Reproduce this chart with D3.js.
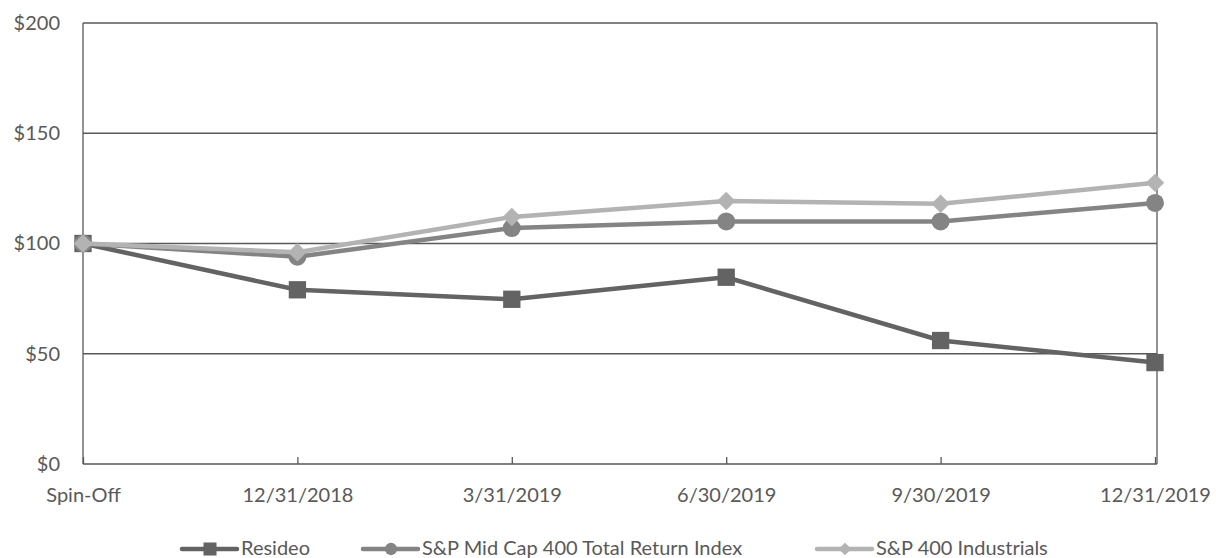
<!DOCTYPE html>
<html><head><meta charset="utf-8">
<script src="https://cdn.jsdelivr.net/npm/d3@7"></script>
<style>body{margin:0;background:#fff}svg{display:block}text{font-family:Lato,"Open Sans",sans-serif;fill:#595959}</style>
</head><body><svg id="c" width="1216" height="558"></svg>
<script>
const categories = ["Spin-Off","12/31/2018","3/31/2019","6/30/2019","9/30/2019","12/31/2019"];
const resideo = [100, 79, 74.7, 84.7, 56, 46];
const midCap = [100, 94, 107, 110, 110, 118.4];
const industrials = [100, 96, 112, 119.3, 118, 127.5];
const yTicks = [0, 50, 100, 150, 200];
const seriesNames = ["Resideo","S&P Mid Cap 400 Total Return Index","S&P 400 Industrials"];

const diamond = { draw(ctx, size) { const r = Math.sqrt(size / 2); ctx.moveTo(0, -r); ctx.lineTo(r, 0); ctx.lineTo(0, r); ctx.lineTo(-r, 0); ctx.closePath(); } };

const series = [
  {name: seriesNames[0], values: resideo, color: "#636363", sym: d3.symbolSquare, size: 300, lsize: 170},
  {name: seriesNames[1], values: midCap, color: "#848484", sym: d3.symbolCircle, size: 255, lsize: 120},
  {name: seriesNames[2], values: industrials, color: "#b3b3b3", sym: diamond, size: 170, lsize: 80}
];

const svg = d3.select("#c");
const L = 83, R = 1157, T = 23, B = 464;
const FONT = "Lato,'Open Sans',sans-serif";
const x = d3.scalePoint().domain(categories).range([L, 1155]);
const y = d3.scaleLinear().domain([0, 200]).range([B, T]);

// grid + frame
svg.append("g").selectAll("line").data(yTicks.slice(1)).join("line")
  .attr("x1", L).attr("x2", R).attr("y1", d => y(d)).attr("y2", d => y(d))
  .attr("stroke", "#595959").attr("stroke-width", 1.3);
svg.append("line").attr("x1", L).attr("x2", L).attr("y1", T).attr("y2", B).attr("stroke", "#595959").attr("stroke-width", 1.3);
svg.append("line").attr("x1", R).attr("x2", R).attr("y1", T).attr("y2", B).attr("stroke", "#595959").attr("stroke-width", 1.3);

// y axis labels
const yAxis = d3.axisLeft(y).tickValues(yTicks).tickFormat(d => "$" + d).tickSize(0).tickPadding(23);
const ga = svg.append("g").attr("transform", `translate(${L},0)`).call(yAxis);
ga.select(".domain").remove();
ga.selectAll("text").style("font-size", "20px").attr("fill", "#595959").style("font-family", FONT);

// x axis
const xAxis = d3.axisBottom(x).tickSize(6).tickPadding(18);
const gx = svg.append("g").attr("transform", `translate(0,${B})`).call(xAxis);
gx.select(".domain").attr("stroke", "#595959").attr("stroke-width", 1.5).attr("d", `M${L},0H${R}`);
gx.selectAll(".tick line").attr("stroke", "#595959").attr("stroke-width", 1.3).attr("y2", -7).attr("y1", 0);
gx.selectAll(".tick text").style("font-size", "20px").attr("fill", "#595959").style("font-family", FONT);

// lines
const line = d3.line().x((d, i) => x(categories[i])).y(d => y(d));
series.forEach(s => {
  const g = svg.append("g");
  g.append("path").datum(s.values).attr("d", line).attr("fill", "none")
    .attr("stroke", s.color).attr("stroke-width", 4.5).attr("stroke-linejoin", "round");
  g.selectAll("path.m").data(s.values).join("path").attr("class", "m")
    .attr("d", d3.symbol().type(s.sym).size(s.size))
    .attr("transform", (d, i) => `translate(${x(categories[i])},${y(d)})`)
    .attr("fill", s.color);
});

// legend
const legX = [182, 363, 817];
series.forEach((s, i) => {
  const g = svg.append("g").attr("transform", `translate(${legX[i]},549)`);
  g.append("line").attr("x1", 0).attr("x2", 55).attr("y1", 0).attr("y2", 0)
    .attr("stroke", s.color).attr("stroke-width", 4.5).attr("stroke-linecap", "round");
  g.append("path").attr("d", d3.symbol().type(s.sym).size(s.lsize)).attr("transform", "translate(28,0)").attr("fill", s.color);
  g.append("text").attr("x", 59).attr("y", 6).style("font-size", "20px").style("font-family", FONT).text(s.name);
});
</script></body></html>
